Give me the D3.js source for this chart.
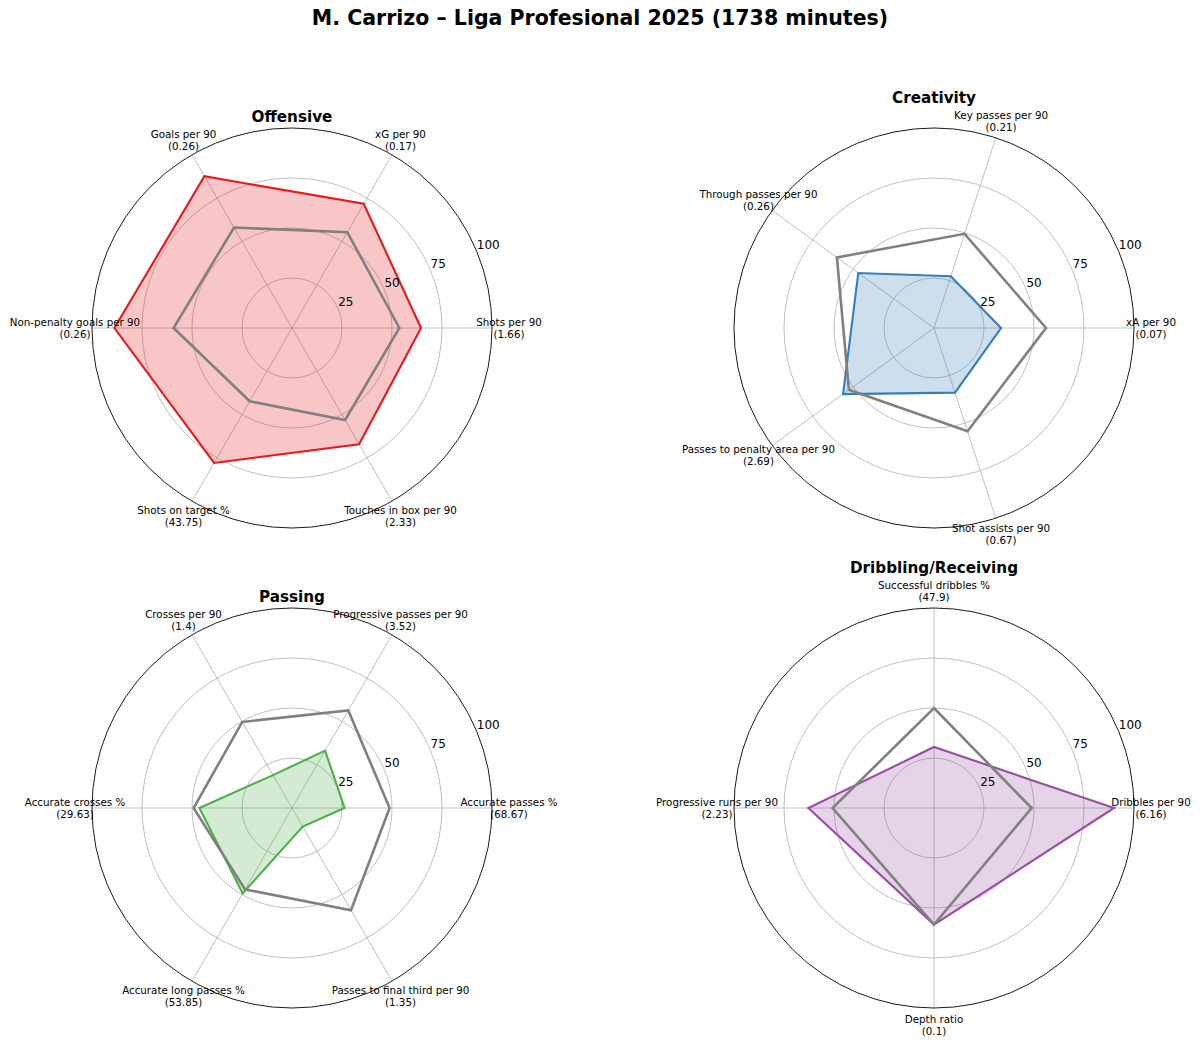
<!DOCTYPE html>
<html>
<head>
<meta charset="utf-8">
<script src="https://cdn.jsdelivr.net/npm/d3@7"></script>
<style>
  body { margin: 0; background: #fff; }
  text { font-family: "DejaVu Sans", sans-serif; fill: #000; }
</style>
</head>
<body>
<div id="main"></div>
<script>
// values are percentiles (0-100), raw stat shown under each label
const offensiveMetrics = ["Shots per 90", "xG per 90", "Goals per 90", "Non-penalty goals per 90", "Shots on target %", "Touches in box per 90"];
const offensiveRaw = ["1.66", "0.17", "0.26", "0.26", "43.75", "2.33"];
const offensivePlayer = [64.5, 71.7, 87.6, 88.8, 77.9, 67.1];
const offensiveAvg = [53.7, 55.3, 58, 59.2, 42.3, 53.1];

const creativityMetrics = ["xA per 90", "Key passes per 90", "Through passes per 90", "Passes to penalty area per 90", "Shot assists per 90"];
const creativityRaw = ["0.07", "0.21", "0.26", "2.69", "0.67"];
const creativityPlayer = [33.5, 27.2, 46.8, 56.2, 34];
const creativityAvg = [56, 49.5, 60, 52.6, 54.3];

const passingMetrics = ["Accurate passes %", "Progressive passes per 90", "Crosses per 90", "Accurate crosses %", "Accurate long passes %", "Passes to final third per 90"];
const passingRaw = ["68.67", "3.52", "1.4", "29.63", "53.85", "1.35"];
const passingPlayer = [26.3, 33.1, 19, 46.3, 49.3, 10.7];
const passingAvg = [48.8, 56.3, 49.7, 49.2, 47, 59];

const dribblingMetrics = ["Dribbles per 90", "Successful dribbles %", "Progressive runs per 90", "Depth ratio"];
const dribblingRaw = ["6.16", "47.9", "2.23", "0.1"];
const dribblingPlayer = [90, 30.5, 62.8, 58.3];
const dribblingAvg = [48.8, 50, 50.7, 58.3];

const rTicks = [25, 50, 75, 100];

const w = 1200;
const h = 1047;
const radius = 200;
const labelRadius = 217;

const panels = [
  { title: "Offensive", metrics: offensiveMetrics, raw: offensiveRaw, player: offensivePlayer, avg: offensiveAvg, color: "#e41a1c", cx: 292, cy: 328 },
  { title: "Creativity", metrics: creativityMetrics, raw: creativityRaw, player: creativityPlayer, avg: creativityAvg, color: "#377eb8", cx: 934, cy: 328 },
  { title: "Passing", metrics: passingMetrics, raw: passingRaw, player: passingPlayer, avg: passingAvg, color: "#4daf4a", cx: 292, cy: 808 },
  { title: "Dribbling/Receiving", metrics: dribblingMetrics, raw: dribblingRaw, player: dribblingPlayer, avg: dribblingAvg, color: "#984ea3", cx: 934, cy: 808 }
];

const svg = d3.select("#main").append("svg")
  .attr("width", w)
  .attr("height", h);

svg.append("text")
  .attr("x", w / 2)
  .attr("y", 25)
  .attr("text-anchor", "middle")
  .style("font-size", "20.5px")
  .style("font-weight", "bold")
  .text("M. Carrizo \u2013 Liga Profesional 2025 (1738 minutes)");

const r = d3.scaleLinear().domain([0, 100]).range([0, radius]);

function radar(p) {
  const n = p.metrics.length;
  // matplotlib style: theta starts east and runs counter-clockwise
  const theta = i => i * 2 * Math.PI / n;
  const g = svg.append("g").attr("transform", "translate(" + p.cx + "," + p.cy + ")");

  const line = d3.lineRadial()
    .angle((d, i) => Math.PI / 2 - theta(i))
    .radius(d => r(d))
    .curve(d3.curveLinearClosed);

  // grid rings
  g.selectAll(".ring")
    .data(rTicks.slice(0, -1))
    .enter().append("circle")
    .attr("r", d => r(d))
    .attr("fill", "none")
    .attr("stroke", "#b0b0b0")
    .attr("stroke-width", 0.8);

  // spokes
  g.selectAll(".spoke")
    .data(p.metrics)
    .enter().append("line")
    .attr("x1", 0).attr("y1", 0)
    .attr("x2", (d, i) => r(100) * Math.cos(theta(i)))
    .attr("y2", (d, i) => -r(100) * Math.sin(theta(i)))
    .attr("stroke", "#b0b0b0")
    .attr("stroke-width", 0.8);

  // outer spine
  g.append("circle")
    .attr("r", r(100))
    .attr("fill", "none")
    .attr("stroke", "#000")
    .attr("stroke-width", 0.9);

  // player
  g.append("path")
    .attr("d", line(p.player))
    .attr("fill", p.color)
    .attr("fill-opacity", 0.25)
    .attr("stroke", "none");
  g.append("path")
    .attr("d", line(p.player))
    .attr("fill", "none")
    .attr("stroke", p.color)
    .attr("stroke-width", 2.1);

  // league average
  g.append("path")
    .attr("d", line(p.avg))
    .attr("fill", "none")
    .attr("stroke", "#808080")
    .attr("stroke-width", 2.6);

  // radial tick labels at 22.5 deg
  const ra = 22.5 * Math.PI / 180;
  g.selectAll(".rtick")
    .data(rTicks)
    .enter().append("text")
    .attr("x", d => r(d) * Math.cos(ra))
    .attr("y", d => -r(d) * Math.sin(ra) - 2.5)
    .attr("text-anchor", "start")
    .style("font-size", "12px")
    .text(d => d);

  // category labels
  const labels = g.selectAll(".lab")
    .data(p.metrics)
    .enter().append("text")
    .attr("text-anchor", "middle")
    .style("font-size", "10.3px")
    .attr("transform", (d, i) => "translate(" + (labelRadius * Math.cos(theta(i))) + "," + (-labelRadius * Math.sin(theta(i))) + ")");
  labels.append("tspan").attr("x", 0).attr("y", -2.3).text(d => d);
  labels.append("tspan").attr("x", 0).attr("y", 9.8).text((d, i) => "(" + p.raw[i] + ")");

  // title sits above the highest label / spine
  let top = -r(100);
  p.metrics.forEach((d, i) => {
    const y = -labelRadius * Math.sin(theta(i)) - 12.5;
    if (y < top) top = y;
  });
  g.append("text")
    .attr("x", 0)
    .attr("y", top - 6)
    .attr("text-anchor", "middle")
    .style("font-size", "15.2px")
    .style("font-weight", "bold")
    .text(p.title);
}

panels.forEach(radar);
</script>
</body>
</html>
